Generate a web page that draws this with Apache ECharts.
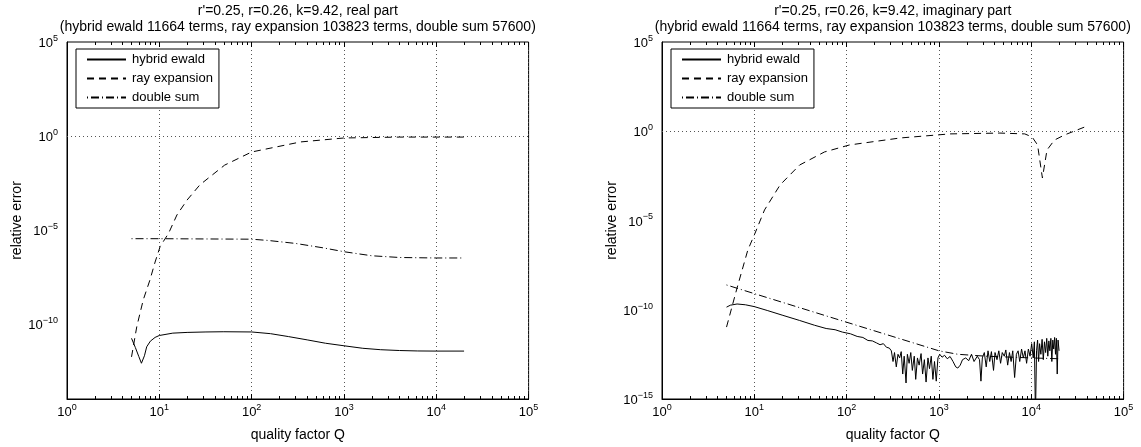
<!DOCTYPE html>
<html>
<head>
<meta charset="utf-8">
<script src="https://cdn.jsdelivr.net/npm/echarts@6/dist/echarts.min.js"></script>
<style>
html, body { margin: 0; padding: 0; background: #fff; }
#chart { width: 1141px; height: 447px; }
</style>
</head>
<body>
<div id="chart"></div>
<script>
// ---- real part ----
const realEwaldQ   = [5.0, 5.5, 6.0, 6.4, 6.6, 6.9, 7.3, 8.0, 9.0, 10, 14, 20, 32, 50, 100, 160, 250, 400, 630, 1000, 1600, 2500, 4000, 6300, 10000, 20000];
const realEwaldErr = [1.7e-11, 5.5e-12, 1.8e-12, 8e-13, 6.5e-13, 2.0e-12, 6e-12, 1.2e-11, 1.9e-11, 2.4e-11, 3.2e-11, 3.5e-11, 3.7e-11, 3.8e-11, 3.7e-11, 3.0e-11, 2.1e-11, 1.4e-11, 9.3e-12, 6.8e-12, 5.0e-12, 4.2e-12, 3.8e-12, 3.6e-12, 3.55e-12, 3.55e-12];

const realRayQ   = [5.0, 5.7, 6.7, 7.9, 9.0, 10.2, 12.6, 15.5, 20, 27.5, 51, 100, 339, 1000, 4000, 20000];
const realRayErr = [1.74e-12, 7.1e-11, 1.9e-9, 2.1e-8, 1.95e-7, 1.3e-6, 6.6e-6, 6.2e-5, 3.9e-4, 2.5e-3, 0.028, 0.14, 0.48, 0.78, 0.87, 0.87];

const realDoubleQ   = [5.0, 10, 30, 100, 150, 300, 600, 1000, 2000, 4000, 10000, 19000];
const realDoubleErr = [3.4e-6, 3.4e-6, 3.3e-6, 3.2e-6, 2.75e-6, 1.9e-6, 1.1e-6, 6.9e-7, 4.2e-7, 3.4e-7, 3.2e-7, 3.2e-7];

// ---- imaginary part ----
const imagEwaldQ = [
  5.0, 5.5, 6.5, 8.0, 10, 14, 20, 31, 45, 60, 75, 90, 110, 130, 150, 170, 190, 210, 230, 250, 270, 290,
  305, 318, 330, 345, 360, 375, 390, 405, 420, 440, 455, 475, 495, 515, 540, 560, 585, 610, 640, 665, 695, 725, 760, 790, 825, 860, 895, 935, 975,
  1020, 1080, 1150, 1230, 1320, 1420, 1520, 1600, 1700, 1800, 1950, 2100, 2250, 2400, 2600, 2750,
  2850, 2950, 3100, 3250, 3400, 3550, 3700, 3900, 4050, 4250, 4450, 4650, 4850, 5100, 5300, 5550, 5800, 6050, 6300, 6600, 6900, 7200, 7500, 7850, 8200, 8550, 8900, 9300, 9700,
  10100, 10500, 10800, 11100, 11400, 11700, 12000, 12300, 12700, 13100, 13500, 13900, 14300, 14700, 15100, 15500, 15900, 16300, 16700, 17100, 17500, 17900, 18300, 18700, 19100, 19500, 20000];
const imagEwaldErr = [
  1.4e-10, 1.8e-10, 2.1e-10, 1.9e-10, 1.5e-10, 8.9e-11, 5e-11, 2.5e-11, 1.35e-11, 8.9e-12, 7.6e-12, 5.6e-12, 4.5e-12, 3.2e-12, 2.8e-12, 1.9e-12, 1.8e-12, 1.4e-12, 1.1e-12, 1.26e-12, 7.9e-13, 7.1e-13,
  5e-13, 1.26e-13, 4e-13, 6.3e-14, 3.2e-13, 2e-13, 4.5e-13, 2.5e-14, 2.5e-13, 7.9e-15, 3.2e-13, 1e-13, 4e-13, 4e-14, 2.5e-13, 1.26e-14, 2e-13, 7.9e-14, 3.5e-13, 2.5e-14, 1.6e-13, 8.9e-15, 2e-13, 5e-14, 2.5e-13, 1.26e-14, 1.26e-13, 1e-14, 2e-13,
  3.2e-13, 2.2e-13, 2.8e-13, 1.8e-13, 2.4e-13, 1.26e-13, 6.3e-14, 5.4e-14, 7.9e-14, 1.6e-13, 2e-13, 1.4e-13, 3.2e-13, 1.26e-13, 2.5e-13, 1.6e-13,
  1e-14, 2e-13, 4e-13, 6.3e-14, 5e-13, 1.26e-13, 4.5e-13, 4e-14, 4e-13, 1.6e-13, 5e-13, 1e-13, 4e-13, 2.5e-13, 5.6e-13, 7.9e-14, 4e-13, 1.26e-13, 5e-13, 1.6e-14, 3.2e-13, 5e-13, 1.26e-13, 6.3e-13, 2e-13, 5e-13, 1e-13, 6.3e-13, 2.5e-13,
  1.26e-12, 2e-13, 1.6e-12, 1e-16, 5e-13, 2e-12, 1.26e-13, 1.26e-12, 3.2e-13, 2.2e-12, 1.6e-13, 1.6e-12, 4e-13, 2.5e-12, 2.5e-13, 1.8e-12, 5e-13, 2.5e-12, 1.26e-13, 2e-12, 6.3e-13, 2.8e-12, 3.2e-13, 2.5e-12, 2.5e-14, 2e-12, 5e-13];

const imagRayQ   = [5.0, 6.5, 8.5, 10, 12.9, 19, 31, 57.5, 107, 380, 1320, 4570, 8500, 10200, 11700, 13200, 14800, 17800, 22900, 38000];
const imagRayErr = [1.07e-11, 1.66e-9, 2.2e-7, 1.55e-6, 3.9e-5, 9.8e-4, 0.0129, 0.069, 0.17, 0.42, 0.71, 0.79, 0.71, 0.48, 0.17, 0.0024, 0.089, 0.32, 0.62, 1.74];

const imagDoubleQ   = [5.0, 10, 100, 1000, 1600, 3200, 10000, 20000];
const imagDoubleErr = [2.45e-9, 8e-10, 2.0e-11, 5e-13, 3.2e-13, 2.5e-13, 2.0e-13, 1.8e-13];

// ---- axis settings ----
const xMin = 1, xMax = 1e5;
const yMax = 1e5;
const yMinReal = 1e-14, yMinImag = 1e-15;
const gridLinesY = [1e-10, 1e-5, 1];

const titleLine1 = ["r'=0.25, r=0.26, k=9.42, real part", "r'=0.25, r=0.26, k=9.42, imaginary part"];
const titleLine2 = '(hybrid ewald 11664 terms, ray expansion 103823 terms, double sum 57600)';
const names = ['hybrid ewald', 'ray expansion', 'double sum'];

const FONT = 'Liberation Sans, Arial, Helvetica, sans-serif';
const zip = (a, b) => a.map((v, i) => [v, b[i]]);

function powText(e) {
  return '{b|10}{s|' + (e < 0 ? '\u2212' + (-e) : e) + '}';
}
function yLabel(v) {
  const e = Math.round(Math.log10(v));
  return e % 5 === 0 ? powText(e) : '';
}
function xLabel(v) {
  return powText(Math.round(Math.log10(v)));
}
const richLbl = {
  b: { fontSize: 13, fontFamily: FONT, color: '#000', lineHeight: 16, verticalAlign: 'bottom' },
  s: { fontSize: 9, fontFamily: FONT, color: '#000', lineHeight: 9, verticalAlign: 'top' }
};

const gridLeft = [67, 662];
const plotW = 461.6, plotTop = 42, plotH = 357;
const dotted = { color: '#555', type: [1, 3], width: 1 };

const option = {
  animation: false,
  backgroundColor: '#fff',
  textStyle: { fontFamily: FONT },
  title: [0, 1].map(i => ({
    text: titleLine1[i] + '\n' + titleLine2,
    left: gridLeft[i] + plotW / 2,
    top: 3,
    padding: 0,
    textAlign: 'center',
    textStyle: { fontSize: 14, fontWeight: 'normal', color: '#000', fontFamily: FONT, lineHeight: 16 }
  })),
  legend: [0, 1].map(i => ({
    data: names,
    orient: 'vertical',
    left: gridLeft[i] + 9,
    top: plotTop + 7,
    itemWidth: 39,
    itemHeight: 12,
    itemGap: 6,
    padding: [4, 6, 4, 10],
    borderColor: '#000',
    borderWidth: 1,
    borderRadius: 0,
    backgroundColor: '#fff',
    selectedMode: false,
    itemStyle: { opacity: 0 },
    textStyle: { fontSize: 13, color: '#000', fontFamily: FONT, padding: [0, 0, 0, 1] }
  })),
  grid: [0, 1].map(i => ({
    left: gridLeft[i], top: plotTop, width: plotW, height: plotH,
    show: true, borderColor: '#000', borderWidth: 1, backgroundColor: 'transparent'
  })),
  xAxis: [],
  yAxis: [],
  series: []
};

[0, 1].forEach(i => {
  const yMin = i === 0 ? yMinReal : yMinImag;
  // bottom axis: labels, decade ticks, minor ticks and dotted decade grid
  option.xAxis.push({
    type: 'log', logBase: 10, gridIndex: i, min: xMin, max: xMax, interval: 1, position: 'bottom',
    name: 'quality factor Q', nameLocation: 'middle', nameGap: 29,
    nameTextStyle: { fontSize: 14, color: '#000', fontFamily: FONT },
    axisLine: { show: true, lineStyle: { color: '#000', width: 1 } },
    axisTick: { show: true, inside: true, length: 5, lineStyle: { color: '#000' } },
    minorTick: { show: true, splitNumber: 9, length: 3, lineStyle: { color: '#000' } },
    axisLabel: { margin: 4, formatter: xLabel, rich: richLbl },
    splitLine: { show: true, lineStyle: dotted }
  });
  // same ticks mirrored on the top edge
  option.xAxis.push({
    type: 'log', logBase: 10, gridIndex: i, min: xMin, max: xMax, interval: 1, position: 'top',
    axisLine: { show: false }, axisLabel: { show: false }, splitLine: { show: false },
    axisTick: { show: true, inside: true, length: 5, lineStyle: { color: '#000' } },
    minorTick: { show: true, splitNumber: 9, length: 3, lineStyle: { color: '#000' } }
  });

  option.yAxis.push({
    type: 'log', logBase: 10, gridIndex: i, min: yMin, max: yMax, interval: 1, position: 'left',
    name: 'relative error', nameLocation: 'middle', nameGap: 42,
    nameTextStyle: { fontSize: 14, color: '#000', fontFamily: FONT },
    axisLine: { show: true, lineStyle: { color: '#000', width: 1 } },
    axisTick: { show: false },
    axisLabel: { margin: 9, formatter: yLabel, rich: richLbl },
    splitLine: { show: false }
  });

  const sets = i === 0
    ? [[realEwaldQ, realEwaldErr], [realRayQ, realRayErr], [realDoubleQ, realDoubleErr]]
    : [[imagEwaldQ, imagEwaldErr], [imagRayQ, imagRayErr], [imagDoubleQ, imagDoubleErr]];
  const dashes = ['solid', [7, 5], [1, 3, 8, 3]];
  sets.forEach((s, k) => {
    const ser = {
      name: names[k], type: 'line', xAxisIndex: i * 2, yAxisIndex: i,
      data: zip(s[0], s[1]), symbol: 'none', smooth: false, silent: true,
      lineStyle: { color: '#000', width: 1, type: dashes[k] },
      itemStyle: { color: '#000' }, z: 3
    };
    if (k === 0) {
      // dotted horizontal grid at the labelled decades
      ser.markLine = {
        silent: true, symbol: 'none', label: { show: false },
        lineStyle: dotted,
        data: gridLinesY.map(v => ({ yAxis: v })),
        z: 1
      };
    }
    option.series.push(ser);
  });
});

const chart = echarts.init(document.getElementById('chart'), null, { renderer: 'canvas' });
chart.setOption(option);
</script>
</body>
</html>
